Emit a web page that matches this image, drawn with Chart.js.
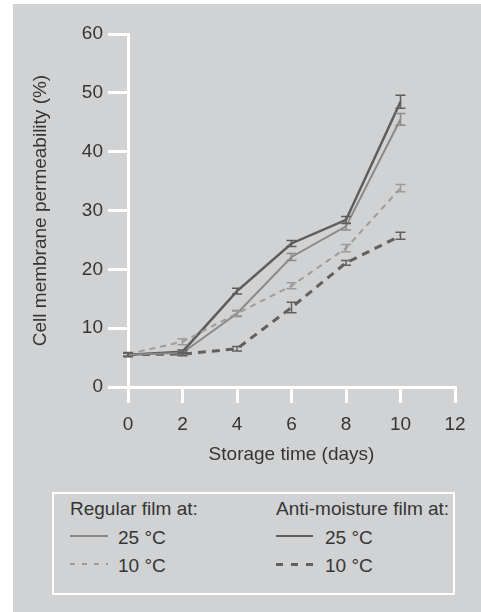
<!DOCTYPE html>
<html>
<head>
<meta charset="utf-8">
<script src="https://cdn.jsdelivr.net/npm/chart.js@4"></script>
<style>
  body { margin: 0; background: #fff; font-family: "Liberation Sans", Arial, sans-serif; }
  #panel { position: absolute; left: 13px; top: 4px; width: 468px; height: 608px; background: #d1d2d3; }
  #wrap { position: absolute; left: 0; top: 0; width: 481px; height: 480px; }
  #legend { position: absolute; left: 52px; top: 492px; width: 403px; height: 103px; box-sizing: border-box; border: 2px solid #fff; }
  .txt { position: absolute; font-size: 19px; line-height: 19px; color: #353535; white-space: nowrap; }
  .smp { position: absolute; }
</style>
</head>
<body>
<div id="panel"></div>
<div id="wrap"><canvas id="myChart"></canvas></div>
<div id="legend"></div>
<script>
let days = [0, 2, 4, 6, 8, 10]
let regular25 = [5.5, 5.8, 12.5, 22.1, 27.3, 45.5]
let regular25Err = [0.3, 0.3, 0.5, 0.6, 0.6, 1.0]
let anti25 = [5.5, 6.0, 16.3, 24.4, 28.4, 48.5]
let anti25Err = [0.3, 0.3, 0.5, 0.5, 0.6, 1.1]
let regular10 = [5.6, 7.7, 12.5, 17.2, 23.6, 33.8]
let regular10Err = [0.3, 0.5, 0.4, 0.5, 0.6, 0.6]
let anti10 = [5.5, 5.6, 6.5, 13.5, 21.1, 25.7]
let anti10Err = [0.3, 0.3, 0.4, 0.9, 0.4, 0.6]
let xTicks = [0, 2, 4, 6, 8, 10, 12]
let yTicks = [0, 10, 20, 30, 40, 50, 60]

let textColor = '#353535'
let font = {family: 'Liberation Sans', size: 19}

let series = [
    {label: 'Regular 25', values: regular25, errors: regular25Err, color: '#8a8a8a', width: 2, dash: []},
    {label: 'Regular 10', values: regular10, errors: regular10Err, color: '#9c9c9c', width: 2, dash: [6, 5]},
    {label: 'Anti 25', values: anti25, errors: anti25Err, color: '#5d5d5d', width: 2.5, dash: []},
    {label: 'Anti 10', values: anti10, errors: anti10Err, color: '#606060', width: 3, dash: [8, 6]}
]

// error bars drawn through the chart scales
let errorBars = {
    id: 'errorBars',
    afterDatasetsDraw: (chart) => {
        let ctx = chart.ctx
        let xs = chart.scales.x
        let ys = chart.scales.y
        ctx.save()
        series.forEach(s => {
            ctx.strokeStyle = s.color
            ctx.lineWidth = 1.5
            ctx.setLineDash([])
            s.values.forEach((v, i) => {
                let px = xs.getPixelForValue(days[i])
                let top = ys.getPixelForValue(v + s.errors[i])
                let bot = ys.getPixelForValue(v - s.errors[i])
                ctx.beginPath()
                ctx.moveTo(px, top); ctx.lineTo(px, bot)
                ctx.moveTo(px - 5, top); ctx.lineTo(px + 5, top)
                ctx.moveTo(px - 5, bot); ctx.lineTo(px + 5, bot)
                ctx.stroke()
            })
        })
        ctx.restore()
    }
}

let ctx = document.getElementById('myChart').getContext('2d')
let chart = new Chart(ctx, {
    type: 'line',
    data: {
        datasets: series.map(s => ({
            label: s.label,
            data: s.values.map((v, i) => ({x: days[i], y: v})),
            borderColor: s.color,
            borderWidth: s.width,
            borderDash: s.dash,
            pointRadius: 0,
            tension: 0,
            fill: false
        }))
    },
    options: {
        responsive: true,
        maintainAspectRatio: false,
        animation: false,
        layout: {padding: {left: 20, top: 34, right: 26, bottom: 14}},
        plugins: {legend: {display: false}, tooltip: {enabled: false}},
        scales: {
            x: {
                type: 'linear', min: 0, max: 12,
                afterBuildTicks: (scale) => { scale.ticks = xTicks.map(v => ({value: v})) },
                afterFit: (scale) => { scale.height = 79 },
                grid: {drawOnChartArea: false, color: '#fff', lineWidth: 3, tickLength: 16},
                border: {color: '#fff', width: 3},
                ticks: {color: textColor, padding: 10, font: font},
                title: {display: true, text: 'Storage time (days)', color: textColor, padding: 0, font: font}
            },
            y: {
                min: 0, max: 60,
                afterBuildTicks: (scale) => { scale.ticks = yTicks.map(v => ({value: v})) },
                afterFit: (scale) => { scale.width = 108 },
                grid: {drawOnChartArea: false, color: '#fff', lineWidth: 3, tickLength: 20},
                border: {color: '#fff', width: 3},
                ticks: {color: textColor, padding: 5, font: font},
                title: {display: true, text: 'Cell membrane permeability (%)', color: textColor, padding: {top: 9, bottom: 0}, font: font}
            }
        }
    },
    plugins: [errorBars]
})

// legend in html, positions relative to page
let legendHeads = ['Regular film at:', 'Anti-moisture film at:']
let legendTemps = ['25 °C', '10 °C']
let legendEl = document.getElementById('legend')
let addEl = (cls, left, top, html, style) => {
    let d = document.createElement('div')
    d.className = cls
    d.style.left = (left - 54) + 'px'
    d.style.top = (top - 494) + 'px'
    if (html) d.textContent = html
    if (style) Object.assign(d.style, style)
    legendEl.appendChild(d)
}
let sampleStyle = (s, w) => {
    if (s.dash.length == 0) return {width: w + 'px', height: s.width + 'px', background: s.color}
    return {width: w + 'px', height: s.width + 'px',
        background: 'repeating-linear-gradient(to right, ' + s.color + ' 0 ' + (s.dash[0] - 0.5) + 'px, transparent ' + (s.dash[0] - 0.5) + 'px ' + (s.dash[0] + s.dash[1] + 1) + 'px)'}
}
let cols = [70, 276]
let rows = [544, 572]
legendHeads.forEach((h, c) => {
    addEl('txt', cols[c], 499, h)
    legendTemps.forEach((t, r) => {
        let s = series[c * 2 + r]
        addEl('smp', cols[c], rows[r] - 8 - s.width / 2, null, sampleStyle(s, c == 0 ? 38 : 37))
        addEl('txt', cols[c] + (c == 0 ? 48 : 49), rows[r] - 16, t)
    })
})
</script>
</body>
</html>
